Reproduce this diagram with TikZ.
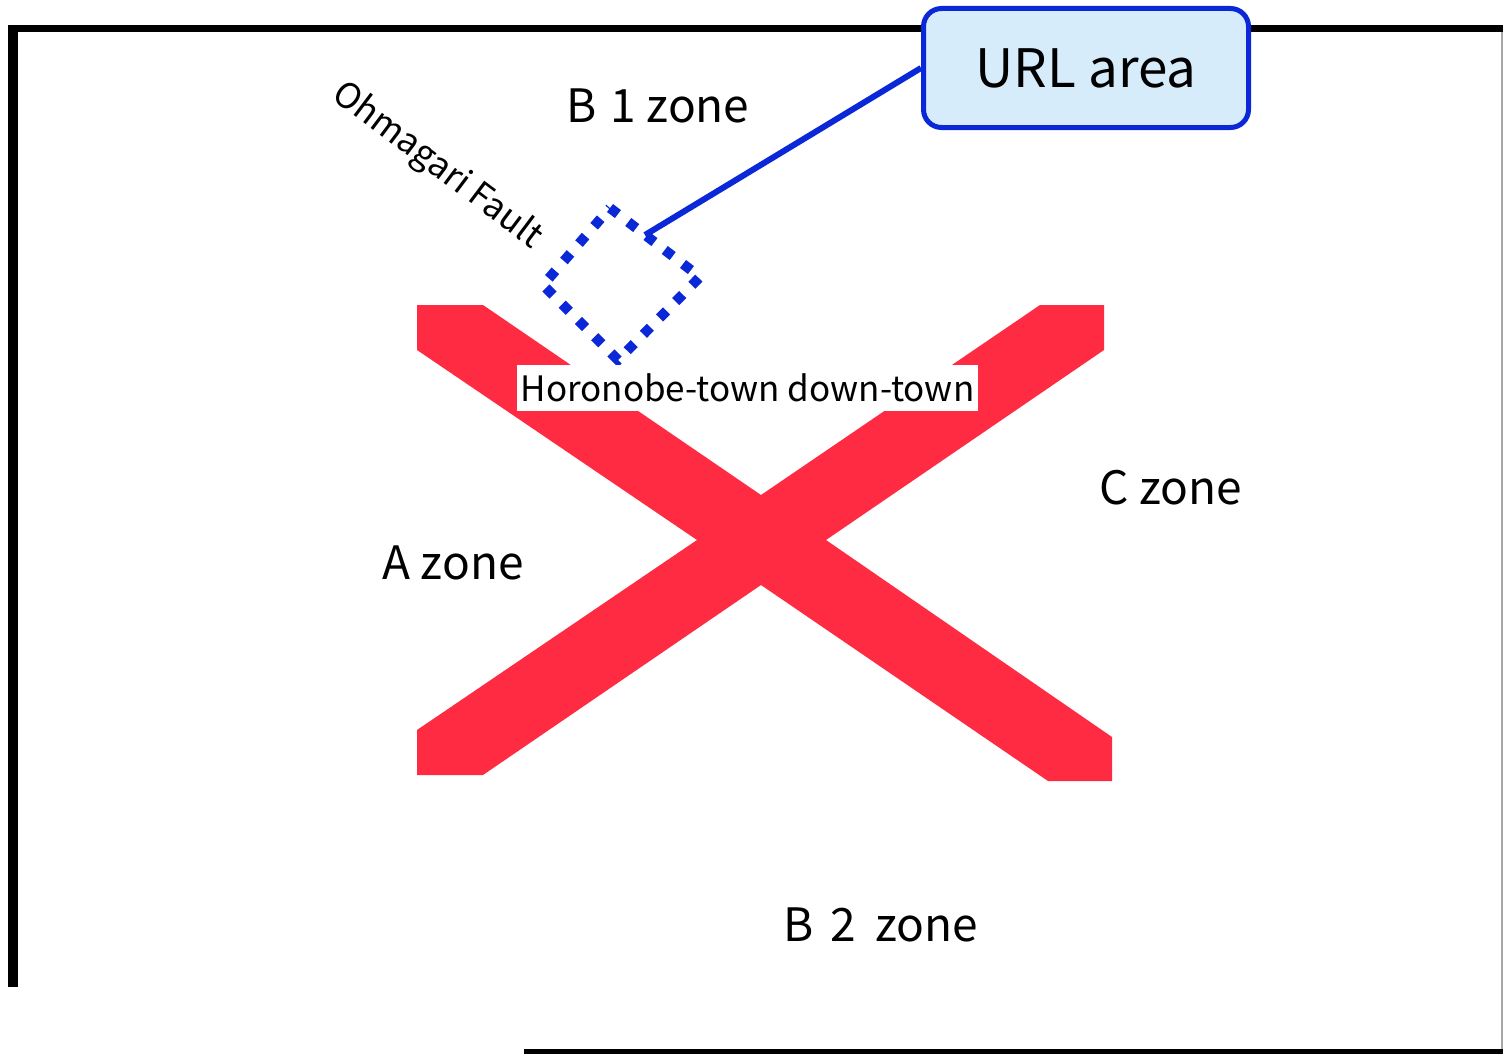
\documentclass[tikz,border=0pt]{standalone}
\usepackage{fontspec}
\setmainfont{Noto Sans CJK JP}
\definecolor{xred}{RGB}{255,43,67}
\definecolor{lblue}{RGB}{10,40,216}
\definecolor{lfill}{RGB}{214,236,251}
\tikzset{
  zone/.style={inner sep=0pt, font=\fontsize{46}{55}\selectfont},
  urlbox/.style={draw=lblue, fill=lfill, line width=5pt, rounded corners=18pt, minimum width=325pt, minimum height=119pt, inner sep=0pt, font=\fontsize{53}{63}\selectfont},
  frameline/.style={line width=#1, black},
  dotline/.style={draw=lblue, line width=10pt, dash pattern=on 10pt off 13pt},
  conn/.style={draw=lblue, line width=6pt},
}
\begin{document}
\begin{tikzpicture}[x=1pt, y=-1pt]
\useasboundingbox (0,0) rectangle (1503,1054);
% frame
\draw[frameline=7.5pt] (8,28.5) -- (1503,28.5);
\draw[frameline=10pt] (13,25) -- (13,987);
\draw[line width=1.5pt, gray!70] (1502,32) -- (1502,1050);
\draw[frameline=4.5pt] (524,1051.5) -- (1503,1051.5);
% red X
\fill[xred] (417,305) -- (483,305) -- (761,495) -- (1040,305) -- (1104,305) -- (1104,350)
  -- (826,540) -- (1112,737) -- (1112,781) -- (1048,781) -- (761,585) -- (483,775)
  -- (417,775) -- (417,730) -- (697,540) -- (417,350) -- cycle;
% dotted area
\coordinate (dt) at (610,208);
\coordinate (dr) at (700,277);
\coordinate (db) at (618,360);
\coordinate (dl) at (543,285);
\draw[dotline] (dt) -- (dr) -- (db) -- (dl) -- cycle;
\coordinate (p) at (645,235);
% labels
\node[fill=white, inner sep=3pt, minimum width=461pt, minimum height=46pt, font=\fontsize{35}{42}\selectfont] (down) at (747.5,388) {Horonobe-town down-town};
\node[zone] (b1) at (658,106) {B\hspace{14pt}1 zone};
\node[zone] (a) at (453,563) {A zone};
\node[zone] (c) at (1171,488) {C zone};
\node[zone] (b2) at (881,925) {B\hspace{17pt}2\hspace{19pt}zone};
\node[rotate=-37, inner sep=0pt, font=\fontsize{35}{40}\selectfont] (fault) at (437,166) {Ohmagari Fault};
% URL box
\node[urlbox] (url) at (1086,68) {URL area};
\draw[conn] (url.west) -- (p);
\end{tikzpicture}
\end{document}
